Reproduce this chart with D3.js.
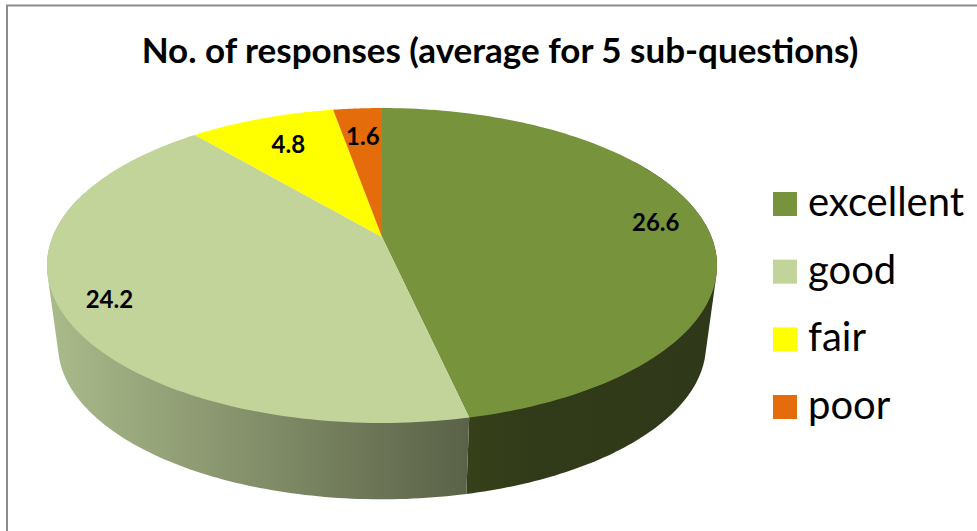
<!DOCTYPE html>
<html><head><meta charset="utf-8">
<script src="https://cdnjs.cloudflare.com/ajax/libs/d3/7.8.5/d3.min.js"></script>
<style>html,body{margin:0;padding:0;background:#fff}svg{display:block}</style>
</head><body><svg id="c" width="977" height="531"></svg>
<script>
const categories = ["excellent", "good", "fair", "poor"];
const values = [26.6, 24.2, 4.8, 1.6];
const valueLabels = ["26.6", "24.2", "4.8", "1.6"];
const colors = ["#77933C", "#C2D49A", "#FFFF00", "#E46C0A"];
const labelRadius = [0.85, 0.86, 0.75, 0.75];
const title = "No. of responses (average for 5 sub-questions)";

const svg = d3.select("#c");
const FONT = "Lato, 'Open Sans', sans-serif";

// perspective projection of the pie's unit disk
const cx = 382, apexY = 237, persp = -0.181, D = 329.5, A = 109.4;
function topPt(r, a) {
  const u = r * Math.sin(a), v = -r * Math.cos(a), w = 1 + persp * v;
  return [cx + D * u / w, (A * v + apexY) / w];
}
function bottomPt(a) {
  const p = topPt(1, a);
  return [cx + (p[0] - cx) * 0.967, 345 + (p[1] - 265.5) * 0.98];
}
const arcs = d3.pie().sort(null).value(d => d)(values);
const stepRange = (a, b) => d3.range(0, 121).map(i => d3.interpolateNumber(a, b)(i / 120));
const line = d3.line();

const defs = svg.append("defs");
const g1 = defs.append("linearGradient").attr("id", "goodSide").attr("gradientUnits", "userSpaceOnUse")
  .attr("x1", 50).attr("x2", 468).attr("y1", 0).attr("y2", 0);
g1.append("stop").attr("offset", 0).attr("stop-color", "#AABA8A");
g1.append("stop").attr("offset", 1).attr("stop-color", "#5A6248");
const g2 = defs.append("linearGradient").attr("id", "excSide").attr("gradientUnits", "userSpaceOnUse")
  .attr("x1", 468).attr("x2", 720).attr("y1", 0).attr("y2", 0);
g2.append("stop").attr("offset", 0).attr("stop-color", "#364019");
g2.append("stop").attr("offset", 0.3).attr("stop-color", "#313A19");
g2.append("stop").attr("offset", 1).attr("stop-color", "#2F3818");

// frame
svg.append("path").attr("d", "M7,531V5.5H977").attr("fill", "none").attr("stroke", "#8C8C8C").attr("stroke-width", 2);

// side walls
function wall(a0, a1, fill) {
  const pts = stepRange(a0, a1).flatMap(a => [topPt(1, a), bottomPt(a)]);
  svg.append("path").attr("d", line(d3.polygonHull(pts)) + "Z").attr("fill", fill);
}
wall(arcs[0].startAngle + 1.0, arcs[0].endAngle, "url(#excSide)");
wall(arcs[1].startAngle, arcs[1].startAngle + 2.1, "url(#goodSide)");

// top faces
arcs.forEach((d, i) => {
  const pts = [topPt(0, 0)].concat(stepRange(d.startAngle, d.endAngle).map(a => topPt(1, a)));
  svg.append("path").attr("d", line(pts) + "Z").attr("fill", colors[i]);
});

// value labels
arcs.forEach((d, i) => {
  const p = topPt(labelRadius[i], (d.startAngle + d.endAngle) / 2);
  svg.append("text").attr("x", p[0]).attr("y", p[1] + 8).attr("text-anchor", "middle")
    .attr("font-family", FONT).attr("font-weight", 700).attr("font-size", 24).attr("fill", "#000")
    .text(valueLabels[i]);
});

// title
svg.append("text").attr("x", 500).attr("y", 63).attr("text-anchor", "middle")
  .attr("font-family", FONT).attr("font-weight", 700).attr("font-size", 35).attr("fill", "#000")
  .text(title);

// legend
const legendY = d3.scalePoint().domain(categories).range([204, 407]);
categories.forEach((c, i) => {
  const y = legendY(c);
  svg.append("rect").attr("x", 773).attr("y", y - 12).attr("width", 24).attr("height", 24).attr("fill", colors[i]);
  svg.append("text").attr("x", 808).attr("y", y + 12).attr("font-family", FONT).attr("font-size", 40).attr("fill", "#000").text(c);
});
</script></body></html>
